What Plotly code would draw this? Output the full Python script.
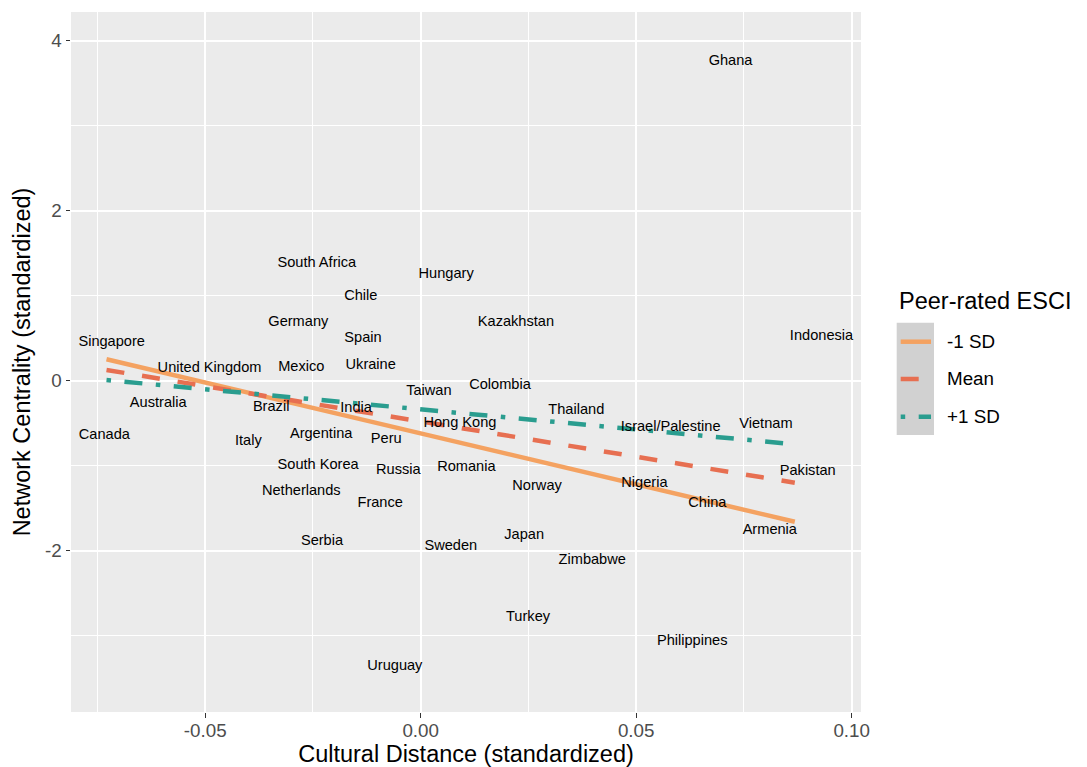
import plotly.graph_objects as go

# ---- data ----
countries = [
    "Ghana", "South Africa", "Hungary", "Chile", "Germany", "Kazakhstan", "Spain",
    "Indonesia", "Singapore", "United Kingdom", "Mexico", "Ukraine", "Taiwan",
    "Colombia", "Australia", "Brazil", "India", "Thailand", "Hong Kong", "Vietnam",
    "Israel/Palestine", "Canada", "Argentina", "Peru", "Italy", "South Korea",
    "Romania", "Russia", "Pakistan", "Nigeria", "Norway", "Netherlands", "France",
    "China", "Armenia", "Japan", "Serbia", "Sweden", "Zimbabwe", "Turkey",
    "Philippines", "Uruguay",
]
cultural_distance = [
    0.0719, -0.0241, 0.0059, -0.0139, -0.0284, 0.0221, -0.0134,
    0.0930, -0.0717, -0.0490, -0.0277, -0.0116, 0.0019,
    0.0184, -0.0609, -0.0347, -0.0150, 0.0361, 0.0091, 0.0801,
    0.0580, -0.0734, -0.0231, -0.0080, -0.0400, -0.0238,
    0.0106, -0.0052, 0.0898, 0.0519, 0.0270, -0.0277, -0.0094,
    0.0665, 0.0810, 0.0240, -0.0229, 0.0070, 0.0398, 0.0249,
    0.0630, -0.0060,
]
network_centrality = [
    3.760, 1.375, 1.251, 0.995, 0.681, 0.689, 0.498,
    0.525, 0.446, 0.140, 0.152, 0.183, -0.126,
    -0.052, -0.267, -0.319, -0.326, -0.349, -0.502, -0.514,
    -0.554, -0.640, -0.632, -0.691, -0.719, -1.001,
    -1.025, -1.052, -1.072, -1.213, -1.240, -1.307, -1.444,
    -1.444, -1.758, -1.817, -1.895, -1.954, -2.114, -2.781,
    -3.064, -3.366,
]

fit_x = [-0.0729, 0.0868]
fit_minus_1sd = [0.253, -1.660]
fit_mean = [0.126, -1.200]
fit_plus_1sd = [0.008, -0.748]

series_names = ["-1 SD", "Mean", "+1 SD"]
series_colors = ["#F4A261", "#E76F51", "#2A9D8F"]
series_dashes = ["solid", "18px,18px", "4.5px,13.5px,18px,13.5px"]

x_tickvals = [-0.05, 0.0, 0.05, 0.10]
x_ticktext = ["-0.05", "0.00", "0.05", "0.10"]
y_tickvals = [-2, 0, 2, 4]
y_ticktext = ["-2", "0", "2", "4"]

FONT = "Liberation Sans, Arial, Helvetica, sans-serif"
OFF = 8  # default page body margin of the html page
W, H = 1087 - OFF, 767 - OFF
ML, MT = 71 - OFF, 12 - OFF
PW, PH = 790, 700
MR, MB = W - ML - PW, H - MT - PH

fig = go.Figure()

for name, ys, col, dash in zip(series_names, [fit_minus_1sd, fit_mean, fit_plus_1sd],
                               series_colors, series_dashes):
    fig.add_trace(go.Scatter(
        x=fit_x, y=ys, mode="lines", name=name,
        line=dict(color=col, width=4.5, dash=dash),
        showlegend=False, hoverinfo="skip",
    ))

fig.add_trace(go.Scatter(
    x=cultural_distance, y=network_centrality, mode="text", text=countries,
    textposition="middle center",
    textfont=dict(family=FONT, size=14.6, color="#000000"),
    showlegend=False,
))

fig.update_layout(
    width=W, height=H,
    margin=dict(l=ML, r=MR, t=MT, b=MB),
    paper_bgcolor="white", plot_bgcolor="#EBEBEB",
    font=dict(family=FONT),
    showlegend=False,
)
fig.update_xaxes(
    range=[-0.08114, 0.10216], tickvals=x_tickvals, ticktext=x_ticktext,
    showgrid=True, gridcolor="white", gridwidth=1.7, zeroline=False,
    ticks="outside", ticklen=4.5, tickwidth=1.1, tickcolor="#333333",
    ticklabelstandoff=-3,
    tickfont=dict(family=FONT, size=18.8, color="#4D4D4D"),
    minor=dict(tick0=0, dtick=0.025, showgrid=True, gridcolor="white", gridwidth=0.9),
    title=dict(text="Cultural Distance (standardized)", standoff=12,
               font=dict(family=FONT, size=23.5, color="#000000")),
    showline=False, automargin=False,
)
fig.update_yaxes(
    range=[-3.898, 4.338], tickvals=y_tickvals, ticktext=y_ticktext,
    showgrid=True, gridcolor="white", gridwidth=1.7, zeroline=False,
    ticks="outside", ticklen=4.5, tickwidth=1.1, tickcolor="#333333",
    tickfont=dict(family=FONT, size=18.8, color="#4D4D4D"),
    minor=dict(tick0=0, dtick=1, showgrid=True, gridcolor="white", gridwidth=0.9),
    title=dict(text="Network Centrality (standardized)", standoff=7,
               font=dict(family=FONT, size=23.5, color="#000000")),
    showline=False, automargin=False,
)

# ---- manual legend (ggplot style); positions given in page pixels ----
def px(xp):
    return (xp - OFF - ML) / PW

def py(yp):
    return (H - MB - (yp - OFF)) / PH

fig.add_annotation(xref="paper", yref="paper", x=px(897), y=py(300.7),
                   text="Peer-rated ESCI", showarrow=False, xanchor="left", yanchor="middle",
                   font=dict(family=FONT, size=23.5, color="#000000"))
fig.add_shape(type="rect", xref="paper", yref="paper",
              x0=px(896.7), x1=px(934), y0=py(435), y1=py(322.7),
              fillcolor="#D1D1D1", line=dict(width=0), layer="below")
key_y = [341.7, 379.0, 416.7]
for name, col, dash, ky in zip(series_names, series_colors, series_dashes, key_y):
    fig.add_shape(type="line", xref="paper", yref="paper",
                  x0=px(900.7), x1=px(931), y0=py(ky), y1=py(ky),
                  line=dict(color=col, width=4.5, dash=dash))
    fig.add_annotation(xref="paper", yref="paper", x=px(945), y=py(ky),
                       text=name, showarrow=False, xanchor="left", yanchor="middle",
                       font=dict(family=FONT, size=18.8, color="#000000"))

fig.write_html("out.html")
